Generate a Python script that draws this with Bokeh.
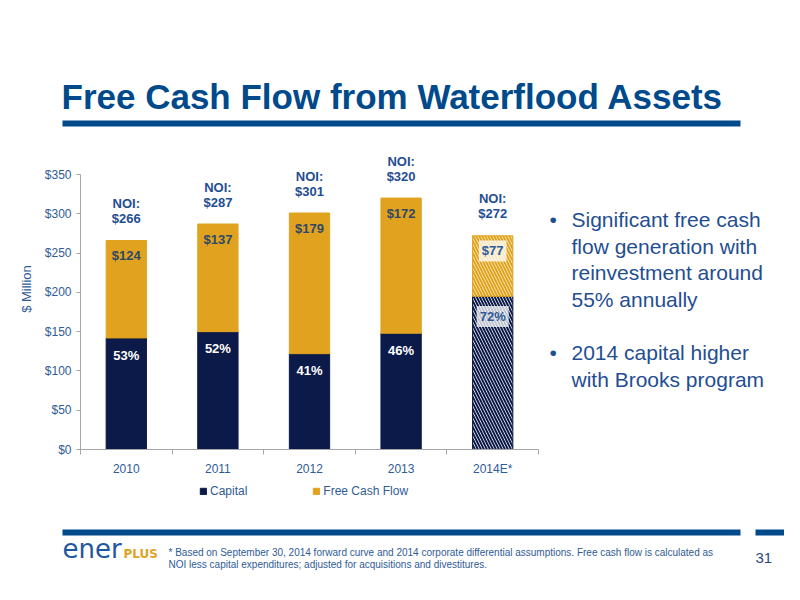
from bokeh.plotting import figure
from bokeh.layouts import column, row
from bokeh.models import (ColumnDataSource, Range1d, FixedTicker, PrintfTickFormatter,
                          Legend, LegendItem)
from bokeh.core.properties import value
from bokeh.embed import file_html
from bokeh.resources import INLINE

# ---------------- data ----------------
years = ["2010", "2011", "2012", "2013", "2014E*"]
capital = [142, 150, 122, 148, 195]
free_cash_flow = [124, 137, 179, 172, 77]
noi = [266, 287, 301, 320, 272]
capital_pct = ["53%", "52%", "41%", "46%", "72%"]
is_estimate = [False, False, False, False, True]
y_ticks = [0, 50, 100, 150, 200, 250, 300, 350]
series_names = ["Capital", "Free Cash Flow"]

title_text = "Free Cash Flow from Waterflood Assets"
bullets = [
    ["Significant free cash", "flow generation with", "reinvestment around", "55% annually"],
    ["2014 capital higher", "with Brooks program"],
]
footnote = [
    "* Based on September 30, 2014 forward curve and 2014 corporate differential assumptions.  Free cash flow is calculated as",
    "NOI less capital expenditures; adjusted for acquisitions and divestitures.",
]
page_number = "31"

# ---------------- styles ----------------
NAVY = "#0b1a48"
GOLD = "#e1a31f"
BLUE = "#004a8c"
TICK_BLUE = "#2f5b96"
TEXT_BLUE = "#1f4e91"
FONT = "Liberation Sans"
W, H = 784, 584
SHIFT = 0.37   # baseline correction, in em

# page layout (pixels)
TOP_H = 128          # title band
MID_H = 351          # chart band
CHART_W = 540
FRAME_L, FRAME_R = 80, 538
FRAME_TOP_350, FRAME_BOT = 174, 449   # page y of $350 and $0
BOT_H = H - TOP_H - MID_H
MID_BORDER_B = TOP_H + MID_H - FRAME_BOT

n = len(years)
xs = [i + 0.5 for i in range(n)]
totals = [c + f for c, f in zip(capital, free_cash_flow)]


def make_source(sel):
    idx = [i for i in range(n) if sel(i)]
    return ColumnDataSource(dict(
        x=[xs[i] for i in idx],
        capital=[capital[i] for i in idx],
        total=[totals[i] for i in idx],
        noi_label=["$%d" % noi[i] for i in idx],
        noi_head=["NOI:" for i in idx],
        fcf_label=["$%d" % free_cash_flow[i] for i in idx],
        pct=[capital_pct[i] for i in idx],
    ))


src_act = make_source(lambda i: not is_estimate[i])
src_est = make_source(lambda i: is_estimate[i])


def deco_fig(width, height, x0, y0, border_bottom=0):
    f = figure(width=width, height=height, output_backend="svg", toolbar_location=None,
               x_range=Range1d(x0, x0 + width),
               y_range=Range1d(y0 + height - border_bottom, y0),
               x_axis_type=None, y_axis_type=None, min_border=0,
               min_border_bottom=border_bottom)
    f.outline_line_color = None
    f.grid.visible = False
    f.background_fill_color = "white"
    f.border_fill_color = "white"
    return f


def put_text(f, texts, xs_, ys_, size, color, style="normal", font=FONT, align="left"):
    f.text(x=xs_, y=[v - SHIFT * size for v in ys_], text=texts, text_font=value(font),
           text_font_size="%spx" % size, text_font_style=style, text_color=color,
           text_align=align, text_baseline="alphabetic")


# ---------------- title band ----------------
top = deco_fig(W, TOP_H, 0, 0)
put_text(top, [title_text], [61], [109], 35, BLUE, style="bold")
top.quad(left=[62], right=[740], top=[120], bottom=[126], fill_color=BLUE, line_color=None)

# ---------------- chart ----------------
ymax = 350 * (FRAME_BOT - TOP_H) / (FRAME_BOT - FRAME_TOP_350)
p = figure(width=CHART_W, height=MID_H, output_backend="svg", toolbar_location=None,
           x_range=Range1d(0, n), y_range=Range1d(0, ymax),
           min_border_left=FRAME_L, min_border_right=CHART_W - FRAME_R,
           min_border_top=0, min_border_bottom=MID_BORDER_B)
p.outline_line_color = None
p.xgrid.visible = False
p.ygrid.visible = False
p.background_fill_color = "white"
p.border_fill_color = "white"

bw = 0.44
p.vbar(x="x", bottom=0, top="capital", width=bw, source=src_act,
       fill_color=NAVY, line_color=NAVY)
p.vbar(x="x", bottom="capital", top="total", width=bw, source=src_act,
       fill_color=GOLD, line_color=GOLD)
p.vbar(x="x", bottom=0, top="capital", width=bw, source=src_est,
       fill_color="white", line_color=NAVY, line_width=1,
       hatch_pattern="left_diagonal_line", hatch_color=NAVY, hatch_scale=6, hatch_weight=2)
p.vbar(x="x", bottom="capital", top="total", width=bw, source=src_est,
       fill_color="#fdf0cf", line_color=GOLD, line_width=1,
       hatch_pattern="left_diagonal_line", hatch_color=GOLD, hatch_scale=6, hatch_weight=2)

LBL = 13
d = SHIFT * LBL
for src in (src_act, src_est):
    p.text(x="x", y="total", text="noi_label", source=src, y_offset=-17 - d,
           text_align="center", text_baseline="alphabetic",
           text_font=value(FONT), text_font_style="bold", text_font_size="13px",
           text_color=TEXT_BLUE)
    p.text(x="x", y="total", text="noi_head", source=src, y_offset=-32 - d,
           text_align="center", text_baseline="alphabetic",
           text_font=value(FONT), text_font_style="bold", text_font_size="13px",
           text_color=TEXT_BLUE)

p.text(x="x", y="total", text="fcf_label", source=src_act, y_offset=20 - d,
       text_align="center", text_baseline="alphabetic",
       text_font=value(FONT), text_font_style="bold", text_font_size="13px",
       text_color="#2e4868")
p.text(x="x", y="capital", text="pct", source=src_act, y_offset=22 - d,
       text_align="center", text_baseline="alphabetic",
       text_font=value(FONT), text_font_style="bold", text_font_size="13px",
       text_color="white")
p.text(x="x", y="total", text="fcf_label", source=src_est, y_offset=20 - d,
       text_align="center", text_baseline="alphabetic",
       text_font=value(FONT), text_font_style="bold", text_font_size="13px",
       text_color=TICK_BLUE, background_fill_color="white", background_fill_alpha=0.75,
       padding=3)
p.text(x="x", y="capital", text="pct", source=src_est, y_offset=25 - d,
       text_align="center", text_baseline="alphabetic",
       text_font=value(FONT), text_font_style="bold", text_font_size="13px",
       text_color=TICK_BLUE, background_fill_color="white", background_fill_alpha=0.75,
       padding=3)

yax = p.yaxis[0]
yax.ticker = FixedTicker(ticks=y_ticks)
yax.bounds = (y_ticks[0], y_ticks[-1])
yax.formatter = PrintfTickFormatter(format="$%d")
yax.axis_line_color = "#a6a6a6"
yax.major_tick_line_color = "#a6a6a6"
yax.major_tick_out = 4
yax.major_tick_in = 0
yax.minor_tick_line_color = None
yax.major_label_text_color = TICK_BLUE
yax.major_label_text_font = FONT
yax.major_label_text_font_size = "12px"
yax.axis_label = "$ Million"
yax.axis_label_text_font = FONT
yax.axis_label_text_font_style = "normal"
yax.axis_label_text_font_size = "13px"
yax.axis_label_text_color = TICK_BLUE
yax.axis_label_standoff = 8

xax = p.xaxis[0]
xax.ticker = FixedTicker(ticks=xs, minor_ticks=list(range(n + 1)))
xax.major_label_overrides = {x: y for x, y in zip(xs, years)}
xax.axis_line_color = "#a6a6a6"
xax.major_tick_line_color = None
xax.minor_tick_line_color = "#a6a6a6"
xax.minor_tick_out = 5
xax.minor_tick_in = 0
xax.major_label_text_color = TICK_BLUE
xax.major_label_text_font = FONT
xax.major_label_text_font_size = "12px"
xax.major_label_standoff = 6

# ---------------- bullets ----------------
side = deco_fig(W - CHART_W, MID_H, CHART_W, TOP_H, border_bottom=MID_BORDER_B)
y = 227
for group in bullets:
    put_text(side, ["\u2022"], [549], [y], 21, TEXT_BLUE)
    for line in group:
        put_text(side, [line], [571], [y], 21, TEXT_BLUE)
        y += 26.6
    y += 26.6

# ---------------- legend + footer ----------------
bot = deco_fig(W, BOT_H, 0, TOP_H + MID_H)
# legend swatches (hidden proxies styled like the bars)
leg_cap = bot.vbar(x=[xs[0]], bottom=[0], top=[capital[0]], width=bw,
                   fill_color=NAVY, line_color=NAVY, visible=False)
leg_fcf = bot.vbar(x=[xs[0]], bottom=[capital[0]], top=[totals[0]], width=bw,
                   fill_color=GOLD, line_color=GOLD, visible=False)
legend = Legend(items=[LegendItem(label=series_names[0], renderers=[leg_cap]),
                       LegendItem(label=series_names[1], renderers=[leg_fcf])],
                orientation="horizontal", location=(199, BOT_H - 19),
                border_line_color=None, background_fill_color=None,
                label_text_font=FONT, label_text_font_size="12px",
                label_text_color=TICK_BLUE, glyph_width=8, glyph_height=8,
                label_standoff=3, spacing=65, padding=4, margin=0)
bot.add_layout(legend, "center")

bot.quad(left=[62, 755], right=[740, 800], top=[529, 529], bottom=[535, 535],
         fill_color=BLUE, line_color=None)
put_text(bot, ["ener"], [62], [558], 26, "#1f56a0", font="DejaVu Sans")
put_text(bot, ["PLUS"], [123], [558], 12, GOLD, style="bold", font="DejaVu Sans")
put_text(bot, footnote, [168, 168], [556, 568], 10, TICK_BLUE)
put_text(bot, [page_number], [755], [563], 15, "#2a4a7a")

layout = column(top, row(p, side, spacing=0), bot, spacing=0)
open("out.html", "w").write(file_html(layout, INLINE))
